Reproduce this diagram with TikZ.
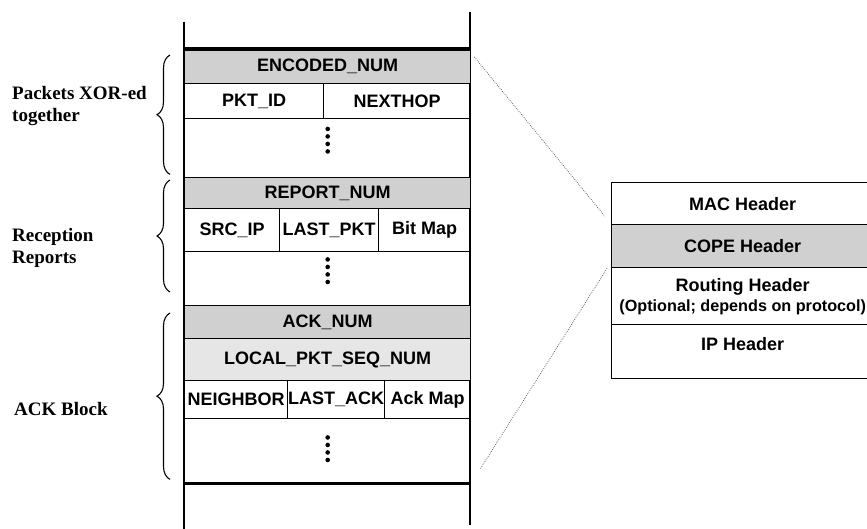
\documentclass[tikz,border=0pt]{standalone}
\usepackage{fontspec}
\setmainfont{Liberation Serif}
\setsansfont{Liberation Sans}
\usepackage{tikz}
\usetikzlibrary{calc,decorations.pathreplacing}
\definecolor{shade}{HTML}{D0D0D0}
\definecolor{shadelt}{HTML}{E6E6E6}
\definecolor{zoomgray}{HTML}{5A5A5A}

\begin{document}
\begin{tikzpicture}[x=1pt,y=-1pt,
  fld/.style 2 args={draw,line width=1.4pt,anchor=north west,inner sep=0pt,align=center,
    minimum width=#1,minimum height=#2,font=\sffamily\bfseries\fontsize{18}{20}\selectfont},
  lab/.style={anchor=west,align=left,inner sep=0pt,font=\bfseries\fontsize{19}{22}\selectfont},
  brace/.style={decorate,decoration={brace,amplitude=13pt},line width=1.1pt},
  zoomline/.style={zoomgray,line width=0.8pt,dash pattern=on 0.7pt off 1.3pt}]
\useasboundingbox[fill=white] (0,0) rectangle (867,529);
\clip (0,0) rectangle (867,529);
\def\cw{286pt}
\def\rw{262pt}
% packet column
\draw[line width=1.5pt] (184,22) -- (184,529);
\draw[line width=1.5pt] (470,12) -- (470,525);
\node[fld={\cw}{34pt},fill=shade] (enc) at (184,49) {ENCODED\_NUM};
\node[fld={139pt}{35pt}] (pktid) at (184,83) {PKT\_ID};
\node[fld={147pt}{35pt}] (nhop) at (323,83) {NEXTHOP};
\node[fld={\cw}{59pt}] (gap1) at (184,118) {};
\node[fld={\cw}{31pt},fill=shade] (rep) at (184,177) {REPORT\_NUM};
\node[fld={95pt}{43pt}] (srcip) at (184,208) {SRC\_IP};
\node[fld={99pt}{43pt}] (lpkt) at (279,208) {LAST\_PKT};
\node[fld={92pt}{43pt}] (bmap) at (378,208) {Bit Map};
\node[fld={\cw}{54pt}] (gap2) at (184,251) {};
\node[fld={\cw}{33pt},fill=shade] (ack) at (184,305) {ACK\_NUM};
\node[fld={\cw}{42pt},fill=shadelt] (lseq) at (184,338) {LOCAL\_PKT\_SEQ\_NUM};
\node[fld={103pt}{38pt}] (nbr) at (184,380) {NEIGHBOR};
\node[fld={97pt}{38pt}] (lack) at (287,380) {LAST\_ACK};
\node[fld={86pt}{38pt}] (amap) at (384,380) {Ack Map};
\node[fld={\cw}{64pt}] (gap3) at (184,418) {};
\draw[line width=3.5pt] (enc.north west) -- (enc.north east);
\draw[line width=3pt] (gap3.south west) -- (gap3.south east);
\foreach \g/\dy in {gap1/-8,gap2/-8,gap3/-2}
  \foreach \k in {0,...,3}
    \fill ($(\g.center)+(0,\dy+\k*7.5-11.25)$) circle (2.3pt);
% braces and labels
\draw[brace] ($(gap1.south west)+(-14,-4)$) -- ($(enc.north west)+(-14,6)$);
\draw[brace] ($(gap2.north west)+(-14,41)$) -- ($(rep.north west)+(-14,3)$);
\draw[brace] ($(gap3.south west)+(-14,-4)$) -- ($(ack.north west)+(-14,8)$);
\node[lab] (lxor) at (12,106) {Packets XOR-ed\\together};
\node[lab] (lrep) at (12,248) {Reception\\Reports};
\node[lab] (lack) at (14,409) {ACK Block};
% header stack
\node[fld={\rw}{42pt}] (mac) at (611,182) {MAC Header};
\node[fld={\rw}{43pt},fill=shade] (cope) at (611,224) {COPE Header};
\node[fld={\rw}{57pt}] (rout) at (611,267) {Routing Header\\{\fontsize{16.2}{20}\selectfont(Optional; depends on protocol)}};
\node[fld={\rw}{54pt},text depth=16pt] (iph) at (611,324) {IP Header};
\draw[zoomline] ($(enc.north east)+(3,8)$) -- ($(mac.south west)+(-6,-9)$);
\draw[zoomline] ($(cope.south west)+(-4,0)$) -- ($(gap3.east)+(9,18)$);
\end{tikzpicture}
\end{document}
